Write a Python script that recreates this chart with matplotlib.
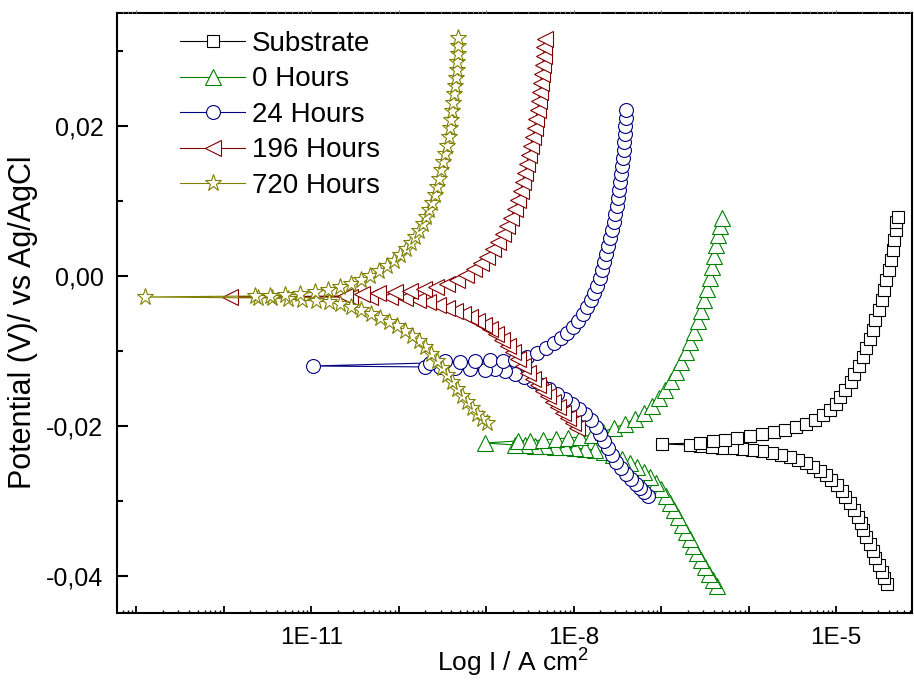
import matplotlib
matplotlib.use("Agg")
import matplotlib.pyplot as plt
from matplotlib.ticker import LogLocator, MultipleLocator, FuncFormatter, NullFormatter
import numpy as np

plt.rcParams['font.family'] = ['Liberation Sans', 'DejaVu Sans']
plt.rcParams['mathtext.fontset'] = 'custom'
plt.rcParams['mathtext.rm'] = 'Liberation Sans'
plt.rcParams['mathtext.it'] = 'Liberation Sans:italic'

labels = ["Substrate", "0 Hours", "24 Hours", "196 Hours", "720 Hours"]

# Potential (V vs Ag/AgCl) and log10 current density (A/cm2), scan order
sub_e = [-0.04107, -0.04027, -0.03947, -0.03853, -0.03760, -0.03667, -0.03573, -0.03480, -0.03387, -0.03293,
         -0.03213, -0.03120, -0.03027, -0.02947, -0.02867, -0.02787, -0.02720, -0.02653, -0.02600, -0.02547,
         -0.02493, -0.02453, -0.02413, -0.02387, -0.02360, -0.02333, -0.02320, -0.02307, -0.02293, -0.02293,
         -0.02280, -0.02267, -0.02253,
         -0.02240,
         -0.02227, -0.02200, -0.02187, -0.02160, -0.02133, -0.02107, -0.02080, -0.02053, -0.02013, -0.01973,
         -0.01920, -0.01853, -0.01787, -0.01707, -0.01613, -0.01520, -0.01413, -0.01307, -0.01200, -0.01080,
         -0.00960, -0.00840, -0.00720, -0.00587, -0.00453, -0.00320, -0.00187, -0.00053, 0.00080, 0.00213,
         0.00347, 0.00480, 0.00613, 0.00720, 0.00787]
sub_logi = [-4.413, -4.447, -4.481, -4.515, -4.550, -4.584, -4.618, -4.653, -4.687, -4.721,
            -4.755, -4.801, -4.847, -4.893, -4.938, -4.995, -5.053, -5.121, -5.190, -5.270,
            -5.350, -5.441, -5.533, -5.635, -5.738, -5.853, -5.967, -6.081, -6.195, -6.310,
            -6.424, -6.561, -6.675,
            -6.995,
            -6.561, -6.413, -6.275, -6.138, -5.990, -5.853, -5.715, -5.590, -5.464, -5.350,
            -5.247, -5.155, -5.075, -5.007, -4.950, -4.893, -4.835, -4.790, -4.744, -4.698,
            -4.653, -4.618, -4.584, -4.550, -4.515, -4.481, -4.447, -4.424, -4.401, -4.378,
            -4.355, -4.333, -4.321, -4.310, -4.298]

h0_e = [-0.04133, -0.04053, -0.03973, -0.03880, -0.03787, -0.03693, -0.03600, -0.03507, -0.03413, -0.03320,
        -0.03213, -0.03120, -0.03027, -0.02933, -0.02840, -0.02760, -0.02680, -0.02613, -0.02547, -0.02493,
        -0.02440, -0.02387, -0.02347, -0.02320, -0.02307, -0.02293, -0.02280, -0.02280, -0.02267, -0.02267,
        -0.02253, -0.02253,
        -0.02227,
        -0.02200, -0.02200, -0.02187, -0.02173, -0.02160, -0.02147, -0.02120, -0.02080, -0.02027, -0.01973,
        -0.01907, -0.01827, -0.01733, -0.01627, -0.01520, -0.01400, -0.01280, -0.01147, -0.01013, -0.00880,
        -0.00747, -0.00600, -0.00467, -0.00320, -0.00173, -0.00027, 0.00120, 0.00267, 0.00413, 0.00547,
        0.00667, 0.00773]
h0_logi = [-6.367, -6.413, -6.458, -6.504, -6.550, -6.595, -6.641, -6.675, -6.721, -6.767,
           -6.813, -6.858, -6.904, -6.950, -7.007, -7.064, -7.133, -7.201, -7.281, -7.361,
           -7.453, -7.555, -7.658, -7.761, -7.875, -7.990, -8.104, -8.218, -8.333, -8.447,
           -8.561, -8.675,
           -9.018,
           -8.641, -8.504, -8.355, -8.207, -8.070, -7.933, -7.795, -7.670, -7.544, -7.418,
           -7.304, -7.201, -7.110, -7.030, -6.961, -6.893, -6.835, -6.778, -6.721, -6.675,
           -6.630, -6.584, -6.550, -6.515, -6.481, -6.447, -6.424, -6.401, -6.378, -6.355,
           -6.333, -6.310]

h24_e = [-0.02933, -0.02880, -0.02827, -0.02773, -0.02707, -0.02640, -0.02560, -0.02480, -0.02387, -0.02293,
         -0.02200, -0.02107, -0.02013, -0.01920, -0.01840, -0.01773, -0.01707, -0.01640, -0.01573, -0.01507,
         -0.01453, -0.01400, -0.01347, -0.01307, -0.01267, -0.01240, -0.01253, -0.01240, -0.01227, -0.01213,
         -0.01213,
         -0.01200,
         -0.01160, -0.01133, -0.01147, -0.01133, -0.01120, -0.01133, -0.01120, -0.01080, -0.01027, -0.00960,
         -0.00893, -0.00827, -0.00760, -0.00680, -0.00600, -0.00507, -0.00413, -0.00320, -0.00227, -0.00133,
         -0.00027, 0.00080, 0.00187, 0.00293, 0.00400, 0.00507, 0.00613, 0.00720, 0.00827, 0.00933,
         0.01040, 0.01147, 0.01253, 0.01360, 0.01467, 0.01573, 0.01680, 0.01787, 0.01893, 0.02000,
         0.02107, 0.02213]
h24_logi = [-7.155, -7.201, -7.247, -7.293, -7.350, -7.407, -7.464, -7.521, -7.567, -7.613,
            -7.658, -7.704, -7.750, -7.807, -7.875, -7.944, -8.024, -8.104, -8.195, -8.287,
            -8.378, -8.470, -8.573, -8.675, -8.790, -8.904, -9.018, -9.190, -9.361, -9.533,
            -9.704,
            -10.984,
            -9.647, -9.475, -9.304, -9.133, -8.961, -8.813, -8.675, -8.538, -8.424, -8.321,
            -8.230, -8.150, -8.081, -8.013, -7.955, -7.898, -7.853, -7.807, -7.773, -7.738,
            -7.704, -7.681, -7.658, -7.635, -7.613, -7.590, -7.567, -7.544, -7.533, -7.510,
            -7.498, -7.487, -7.475, -7.464, -7.453, -7.441, -7.430, -7.430, -7.418, -7.418,
            -7.407, -7.407]

h196_e = [-0.02027, -0.01960, -0.01893, -0.01827, -0.01747, -0.01680, -0.01600, -0.01533, -0.01453, -0.01373,
          -0.01293, -0.01200, -0.01107, -0.01013, -0.00933, -0.00853, -0.00773, -0.00707, -0.00653, -0.00600,
          -0.00547, -0.00507, -0.00467, -0.00427, -0.00387, -0.00347, -0.00320, -0.00293, -0.00280, -0.00280,
          -0.00280,
          -0.00280,
          -0.00267, -0.00240, -0.00227, -0.00213, -0.00200, -0.00173, -0.00147, -0.00107, -0.00053, 0.00013,
          0.00093, 0.00173, 0.00253, 0.00360, 0.00453, 0.00560, 0.00667, 0.00773, 0.00893, 0.01013,
          0.01133, 0.01253, 0.01373, 0.01493, 0.01613, 0.01733, 0.01853, 0.01973, 0.02093, 0.02213,
          0.02333, 0.02453, 0.02573, 0.02693, 0.02813, 0.02933, 0.03053, 0.03160]
h196_logi = [-7.967, -8.013, -8.070, -8.127, -8.184, -8.241, -8.298, -8.355, -8.413, -8.470,
             -8.527, -8.584, -8.641, -8.698, -8.755, -8.824, -8.893, -8.961, -9.030, -9.110,
             -9.190, -9.270, -9.361, -9.453, -9.555, -9.670, -9.784, -9.933, -10.104, -10.333,
             -10.561,
             -11.933,
             -10.618, -10.424, -10.241, -10.047, -9.875, -9.715, -9.578, -9.453, -9.338, -9.235,
             -9.144, -9.064, -8.995, -8.927, -8.870, -8.813, -8.767, -8.721, -8.675, -8.641,
             -8.607, -8.584, -8.561, -8.538, -8.515, -8.493, -8.470, -8.447, -8.435, -8.413,
             -8.401, -8.390, -8.378, -8.367, -8.355, -8.344, -8.344, -8.333]

h720_e = [-0.01960, -0.01907, -0.01840, -0.01760, -0.01680, -0.01600, -0.01507, -0.01413, -0.01320, -0.01227,
          -0.01133, -0.01040, -0.00947, -0.00867, -0.00800, -0.00733, -0.00667, -0.00613, -0.00560, -0.00507,
          -0.00453, -0.00413, -0.00373, -0.00347, -0.00333, -0.00320, -0.00307, -0.00293, -0.00293,
          -0.00280,
          -0.00267, -0.00267, -0.00253, -0.00240, -0.00213, -0.00187, -0.00147, -0.00107, -0.00053, 0.00000,
          0.00067, 0.00133, 0.00200, 0.00280, 0.00360, 0.00440, 0.00520, 0.00600, 0.00693, 0.00787,
          0.00880, 0.00973, 0.01080, 0.01187, 0.01293, 0.01413, 0.01520, 0.01627, 0.01733, 0.01853,
          0.01973, 0.02080, 0.02200, 0.02307, 0.02427, 0.02533, 0.02640, 0.02747, 0.02853, 0.02960,
          0.03067, 0.03173]
h720_logi = [-8.995, -9.053, -9.110, -9.167, -9.224, -9.281, -9.338, -9.395, -9.453, -9.510,
             -9.567, -9.635, -9.704, -9.773, -9.853, -9.933, -10.024, -10.115, -10.218, -10.321,
             -10.435, -10.550, -10.675, -10.801, -10.950, -11.110, -11.270, -11.453, -11.613,
             -12.904,
             -11.647, -11.475, -11.304, -11.133, -10.961, -10.813, -10.675, -10.550, -10.435, -10.333,
             -10.230, -10.138, -10.058, -9.990, -9.921, -9.864, -9.818, -9.773, -9.727, -9.693,
             -9.658, -9.624, -9.590, -9.567, -9.544, -9.521, -9.498, -9.475, -9.453, -9.430,
             -9.418, -9.407, -9.395, -9.384, -9.373, -9.361, -9.350, -9.338, -9.338, -9.327,
             -9.327, -9.327]

potentials = [sub_e, h0_e, h24_e, h196_e, h720_e]
log_currents = [sub_logi, h0_logi, h24_logi, h196_logi, h720_logi]

colors = ['#000000', '#008000', '#000080', '#800000', '#808000']
markers = ['s', '^', 'o', '<', '*']
msizes = [8.5, 11, 10, 12, 12.5]

xlim = (6.03e-14, 7.37e-5)

fig = plt.figure(figsize=(9.14, 6.98), dpi=100)
ax = fig.add_axes([0.1283, 0.1211, 0.8695, 0.8596])

for lab, e, li, c, m, ms in zip(labels, potentials, log_currents, colors, markers, msizes):
    cur = 10.0 ** np.asarray(li)
    ax.plot(cur, e, color=c, lw=0.8, marker=m, ms=ms, mfc='white', mec=c, mew=0.8, label=lab)

ax.set_xscale('log')
ax.set_xlim(*xlim)
ax.set_ylim(-0.045, 0.035)

def xfmt(v, pos):
    e = int(round(np.log10(v)))
    return f"1E{e}" if e in (-11, -8, -5) else ""

ax.xaxis.set_major_locator(LogLocator(base=10, numticks=40))
ax.xaxis.set_major_formatter(FuncFormatter(xfmt))
ax.xaxis.set_minor_locator(LogLocator(base=10, subs=np.arange(2, 10), numticks=40))
ax.xaxis.set_minor_formatter(NullFormatter())

def yfmt(v, pos):
    s = f"{v:.2f}"
    if s == "-0.00":
        s = "0.00"
    return s.replace('.', ',')

ax.yaxis.set_major_locator(MultipleLocator(0.02))
ax.yaxis.set_major_formatter(FuncFormatter(yfmt))
ax.yaxis.set_minor_locator(MultipleLocator(0.01))

ax.tick_params(axis='y', which='major', direction='in', length=8, width=1.5, labelsize=18, pad=10)
ax.tick_params(axis='y', which='minor', direction='in', length=4.5, width=1.5)
ax.tick_params(axis='x', which='major', direction='in', length=5, width=1.3, labelsize=17.5, pad=9.5)
ax.tick_params(axis='x', which='minor', direction='in', length=2.5, width=1.0)

for sp in ax.spines.values():
    sp.set_linewidth(1.5)

# faint mirrored ticks on the top axis
axt = ax.twiny()
axt.set_xscale('log')
axt.set_xlim(*xlim)
axt.xaxis.set_major_locator(LogLocator(base=10, numticks=40))
axt.xaxis.set_minor_locator(LogLocator(base=10, subs=np.arange(2, 10), numticks=40))
axt.xaxis.set_major_formatter(NullFormatter())
axt.xaxis.set_minor_formatter(NullFormatter())
axt.tick_params(axis='x', which='major', direction='out', length=2.5, width=0.8, color='#777777')
axt.tick_params(axis='x', which='minor', direction='out', length=1.5, width=0.6, color='#999999')
for sp in axt.spines.values():
    sp.set_visible(False)

leg = ax.legend(loc='upper left', bbox_to_anchor=(180 / 914, 1 - 31 / 698),
                bbox_transform=fig.transFigure, frameon=False, fontsize=20,
                handlelength=2.35, handletextpad=0.25, labelspacing=0.34,
                borderpad=0, borderaxespad=0)

fig.text(23 / 914, 1 - 322 / 698, 'Potential (V)/ vs Ag/AgCl', rotation=90,
         ha='center', va='center', fontsize=22)
fig.text(513 / 914, 1 - 663 / 698, r'Log I / A cm$^{2}$', ha='center', va='center', fontsize=19)

fig.savefig('out.png', dpi=100)
